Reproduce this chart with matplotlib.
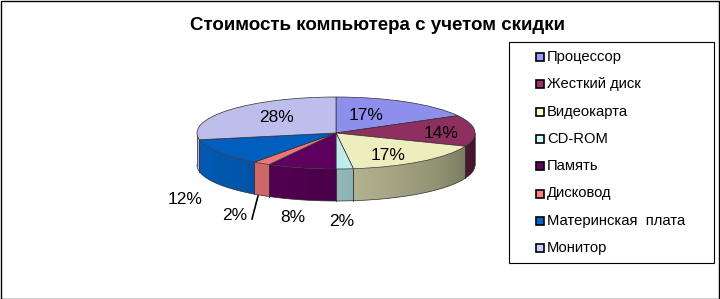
import numpy as np
import matplotlib
matplotlib.use('Agg')
import matplotlib.pyplot as plt
from matplotlib.patches import Polygon, Rectangle
from matplotlib.colors import to_rgb

plt.rcParams['font.family'] = ['Liberation Sans', 'DejaVu Sans']

# data
categories = ['Процессор', 'Жесткий диск', 'Видеокарта', 'CD-ROM',
              'Память', 'Дисковод', 'Материнская  плата', 'Монитор']
shares = [17, 14, 17, 2, 8, 2, 12, 28]
colors = ['#9999FF', '#993366', '#FFFFCC', '#CCFFFF',
          '#660066', '#FF8080', '#0066CC', '#CCCCFF']
title = 'Стоимость компьютера с учетом скидки'

# layout in pixels
W, H = 720, 299
cx, cy, rx, ry, depth = 336, 133, 139, 36, 32
label_pos = [(366, 116), (441, 133), (388, 155), (342, 222),
             (293, 217), (235, 215), (185, 200), (277, 117)]


def px(x, y):
    return (x - cx) / rx, (cy - y) / ry


def shade(c, f):
    r, g, b = to_rgb(c)
    return (r * f, g * f, b * f)


def side_factor(theta):
    return 0.9 - 0.5 * np.clip((theta - 180) / 180, 0, 1) ** 1.5


fig = plt.figure(figsize=(W / 100, H / 100), dpi=100)
ax = fig.add_axes([0, 0, 1, 1])

tops = [shade(c, 0.93) for c in colors]
wedges, _ = ax.pie(shares, radius=1, center=(0, 0), startangle=90,
                   counterclock=False, colors=tops,
                   wedgeprops=dict(edgecolor='#303030', linewidth=0.5))
for w in wedges:
    w.set_zorder(3)

d = depth / ry
# side walls of the front half, shaded left to right
for w, c in zip(wedges, colors):
    t1, t2 = w.theta1, w.theta2
    for k in (-1, 0, 1):
        a = max(t1, 180 + 360 * k)
        b = min(t2, 360 + 360 * k)
        if b <= a:
            continue
        t = np.radians(np.linspace(a, b, 80))
        top = np.column_stack([np.cos(t), np.sin(t)])
        bot = np.column_stack([np.cos(t), np.sin(t) - d])[::-1]
        verts = np.vstack([top, bot])
        poly = Polygon(verts, closed=True, facecolor='none',
                       edgecolor='none', zorder=1)
        ax.add_patch(poly)
        x0, x1 = verts[:, 0].min(), verts[:, 0].max()
        y0, y1 = verts[:, 1].min(), verts[:, 1].max()
        xs = np.linspace(x0, x1, 120)
        th = 360 - np.degrees(np.arccos(np.clip(xs, -1, 1)))
        base = np.array(to_rgb(c))
        img = (side_factor(th)[:, None] * base[None, :])[None, :, :]
        im = ax.imshow(img, extent=(x0, x1, y0, y1), aspect='auto',
                       origin='lower', zorder=1, interpolation='bilinear')
        im.set_clip_path(poly)
        for ang in (a, b):
            r = np.radians(ang)
            ax.plot([np.cos(r)] * 2, [np.sin(r), np.sin(r) - d],
                    color='#303030', lw=0.5, zorder=2)

t = np.radians(np.linspace(180, 360, 200))
ax.plot(np.cos(t), np.sin(t) - d, color='#303030', lw=0.5, zorder=2)

ax.set_aspect('auto')
ax.set_xlim(-cx / rx, (W - cx) / rx)
ax.set_ylim((cy - H) / ry, cy / ry)
ax.axis('off')

# percentage labels
for (lx, ly), v in zip(label_pos, shares):
    x, y = px(lx, ly)
    ax.text(x, y, f'{v}%', ha='center', va='center', fontsize=12.5,
            color='black', zorder=5)

# leader line for the small slice
x0, y0 = px(258, 196)
x1, y1 = px(252, 219)
ax.plot([x0, x1], [y0, y1], color='black', lw=1.2, zorder=4)

# title
fig.text(377 / W, 1 - 26 / H, title, ha='center', va='center',
         fontsize=13.5, fontweight='bold')

# legend, drawn by hand in pixel units
fig.patches.append(Rectangle((509 / W, 1 - 263 / H), 205 / W, 221 / H,
                             transform=fig.transFigure, fill=False,
                             edgecolor='black', lw=0.8))
for i, (name, c) in enumerate(zip(categories, colors)):
    yc = 57 + i * 27.3
    fig.patches.append(Rectangle((536 / W, 1 - (yc + 4) / H), 8 / W, 8 / H,
                                 transform=fig.transFigure, facecolor=c,
                                 edgecolor='black', lw=1.2))
    fig.text(547 / W, 1 - yc / H, name, ha='left', va='center',
             fontsize=10.6)

# outer border
fig.patches.append(Rectangle((0.5 / W, 0.5 / H), 1 - 1.5 / W, 1 - 1.5 / H,
                             transform=fig.transFigure, fill=False,
                             edgecolor='black', lw=1))

fig.savefig('out.png', dpi=100)
